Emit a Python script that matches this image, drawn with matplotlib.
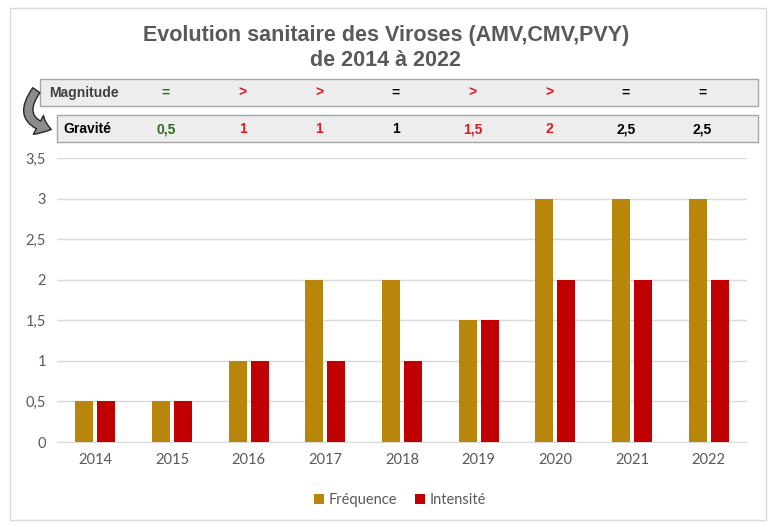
import matplotlib.pyplot as plt
from matplotlib.patches import Rectangle, FancyArrowPatch
from matplotlib.transforms import blended_transform_factory
import numpy as np

years = ['2014', '2015', '2016', '2017', '2018', '2019', '2020', '2021', '2022']
frequence = [0.5, 0.5, 1, 2, 2, 1.5, 3, 3, 3]
intensite = [0.5, 0.5, 1, 1, 1, 1.5, 2, 2, 2]

# band values, one per year from 2015 to 2022
magnitude = ['=', '>', '>', '=', '>', '>', '=', '=']
magnitude_colors = ['#2E6B1F', '#E0191E', '#E0191E', '#000000', '#E0191E', '#E0191E', '#000000', '#000000']
gravite = ['0,5', '1', '1', '1', '1,5', '2', '2,5', '2,5']
gravite_colors = ['#2E6B1F', '#E0191E', '#E0191E', '#000000', '#E0191E', '#E0191E', '#000000', '#000000']

yticks = [0, 0.5, 1, 1.5, 2, 2.5, 3, 3.5]
ytick_labels = ['0', '0,5', '1', '1,5', '2', '2,5', '3', '3,5']

W, H = 771, 527
fig = plt.figure(figsize=(W / 100, H / 100), dpi=100)

def fx(px):
    return px / W

def fy(py):
    return 1 - py / H

# outer chart border
fig.patches.append(Rectangle((fx(10), fy(520)), fx(756), (520 - 8) / H,
                             transform=fig.transFigure, fill=False,
                             edgecolor='#D9D9D9', linewidth=1))

# plot area
ax = fig.add_axes([fx(57), fy(442), fx(747 - 57), (442 - 158) / H])
x = np.arange(len(years))
bw = 0.235
ax.bar(x - 0.145, frequence, bw, color='#B8860B', label='Fréquence', zorder=3)
ax.bar(x + 0.145, intensite, bw, color='#C00000', label='Intensité', zorder=3)
ax.set_xlim(-0.5, len(years) - 0.5)
ax.set_ylim(0, 3.5)
ax.set_yticks(yticks)
ax.set_yticklabels(ytick_labels)
ax.set_xticks(x)
ax.set_xticklabels(years)
ax.grid(axis='y', color='#D9D9D9', linewidth=1, zorder=0)
for s in ['top', 'right', 'left']:
    ax.spines[s].set_visible(False)
ax.spines['bottom'].set_color('#D9D9D9')
ax.tick_params(length=0, labelsize=10.5, labelcolor='#595959', pad=8)
for lab in ax.get_xticklabels() + ax.get_yticklabels():
    lab.set_family('Lato')

leg = fig.legend(loc='center', bbox_to_anchor=(fx(400), fy(500)), ncol=2, frameon=False,
                 handlelength=0.7, handleheight=0.7, handletextpad=0.3, columnspacing=1.2,
                 prop={'family': 'Lato', 'size': 10.5})
for t in leg.get_texts():
    t.set_color('#595959')

# title
fig.text(fx(386), fy(36), 'Evolution sanitaire des Viroses (AMV,CMV,PVY)', ha='center', va='center',
         fontsize=15.5, fontweight='bold', color='#595959', family='Liberation Sans')
fig.text(fx(386), fy(60), 'de 2014 à 2022', ha='center', va='center',
         fontsize=15.5, fontweight='bold', color='#595959', family='Liberation Sans')

# Magnitude / Gravité bands
fig.patches.append(Rectangle((fx(40), fy(106)), fx(758 - 40), (106 - 79) / H,
                             transform=fig.transFigure, facecolor='#EDEDED',
                             edgecolor='#A6A6A6', linewidth=1))
fig.patches.append(Rectangle((fx(57), fy(142)), fx(758 - 57), (142 - 115) / H,
                             transform=fig.transFigure, facecolor='#EDEDED',
                             edgecolor='#A6A6A6', linewidth=1))
fig.text(fx(49), fy(93), 'Magnitude', ha='left', va='center', fontsize=10,
         fontweight='bold', color='#404040', family='Liberation Sans')
fig.text(fx(63), fy(129), 'Gravité', ha='left', va='center', fontsize=10,
         fontweight='bold', color='#000000', family='Liberation Sans')

band = blended_transform_factory(ax.transData, fig.transFigure)
for i in range(len(magnitude)):
    xi = x[i + 1] - 0.08
    fig.text(xi, fy(93), magnitude[i], transform=band,
             ha='center', va='center', fontsize=10, fontweight='bold',
             color=magnitude_colors[i], family='Liberation Sans')
    fig.text(xi, fy(129), gravite[i], transform=band,
             ha='center', va='center', fontsize=10, fontweight='bold',
             color=gravite_colors[i], family='Liberation Sans')

# curved arrow
arrow = FancyArrowPatch((fx(38), fy(88)), (fx(54), fy(130)), transform=fig.transFigure,
                        connectionstyle='arc3,rad=0.8',
                        arrowstyle='simple,head_width=1.1,head_length=0.7,tail_width=0.45',
                        mutation_scale=14, facecolor='#8C8C8C', edgecolor='#262626', linewidth=1)
fig.patches.append(arrow)

fig.savefig('out.png', dpi=100)
